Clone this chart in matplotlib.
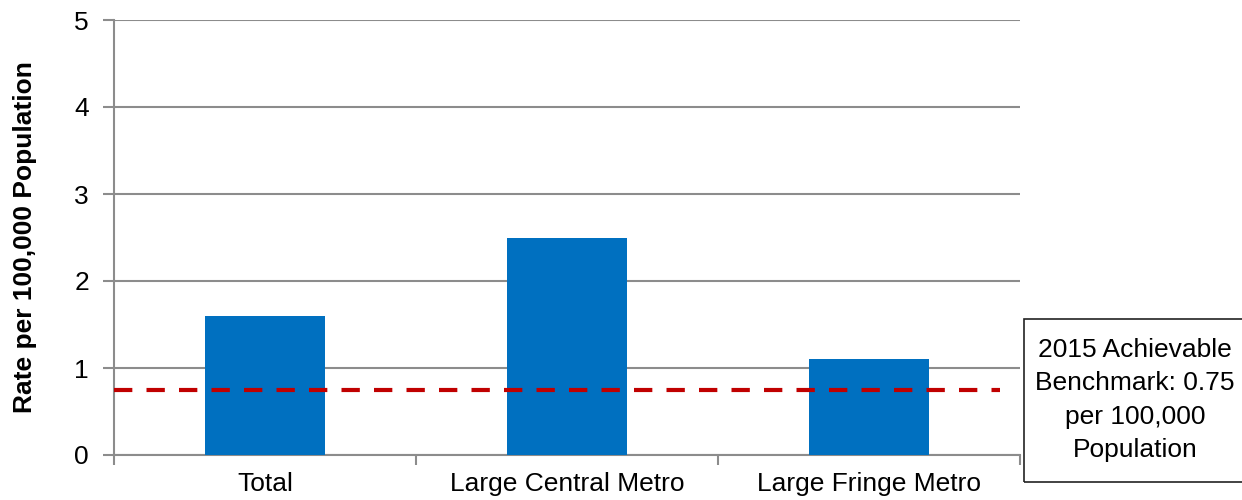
import matplotlib.pyplot as plt
from matplotlib.patches import Rectangle

categories = ['Total', 'Large Central Metro', 'Large Fringe Metro']
rates = [1.6, 2.5, 1.1]
benchmark = 0.75
benchmark_label = '2015 Achievable\nBenchmark: 0.75\nper 100,000\nPopulation'

plt.rcParams['font.family'] = ['Liberation Sans', 'DejaVu Sans']

fig = plt.figure(figsize=(12.42, 5), dpi=100)
ax = fig.add_axes([0.0918, 0.09, 0.7295, 0.87])

x = range(len(categories))
ax.bar(x, rates, width=0.4, color='#0070C0', zorder=3)
ax.axhline(benchmark, xmin=0, xmax=0.978, color='#C00000', lw=3,
           dashes=(4.4, 3.4), zorder=4)

ax.set_xlim(-0.5, 2.5)
ax.set_ylim(0, 5)
ax.set_yticks([0, 1, 2, 3, 4, 5])
ax.yaxis.grid(True, color='#8c8c8c', lw=1.5, zorder=0)

# boundary ticks as major, labels on minor ticks
ax.set_xticks([-0.5, 0.5, 1.5, 2.5])
ax.set_xticklabels([])
ax.set_xticks(list(x), minor=True)
ax.set_xticklabels(categories, minor=True, fontsize=19)
ax.tick_params(axis='x', which='minor', length=0, pad=12)
ax.tick_params(axis='x', which='major', length=7, width=1.5, color='#8c8c8c')
ax.tick_params(axis='y', length=8, width=1.5, color='#8c8c8c', labelsize=19, pad=10)

for s in ['top', 'right']:
    ax.spines[s].set_visible(False)
for s in ['left', 'bottom']:
    ax.spines[s].set_color('#8c8c8c')
    ax.spines[s].set_linewidth(1.5)

ax.set_ylabel('Rate per 100,000 Population', fontsize=19, fontweight='bold', labelpad=27)

fig.patches.append(Rectangle((0.8245, 0.036), 0.2, 0.326, transform=fig.transFigure,
                             fill=False, edgecolor='#222222', lw=1.2))
fig.text(0.914, 0.2, benchmark_label, ha='center', va='center', fontsize=19,
         linespacing=1.5)

fig.savefig('out.png', dpi=100)
